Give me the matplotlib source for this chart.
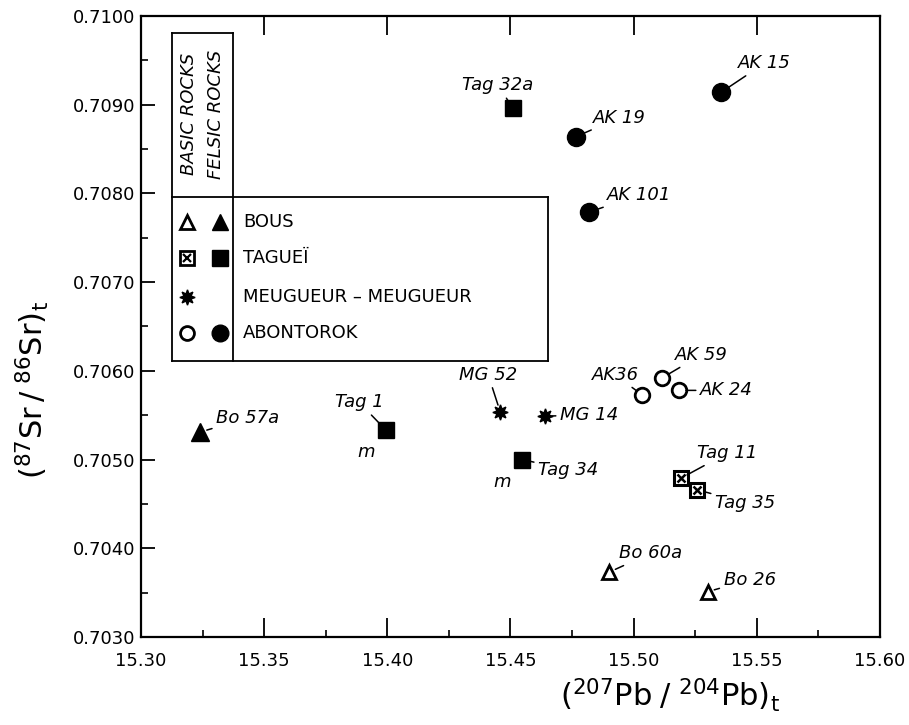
import matplotlib
matplotlib.use("Agg")
import matplotlib.pyplot as plt
from matplotlib.lines import Line2D
from matplotlib.ticker import MultipleLocator, FormatStrFormatter

plt.rcParams['font.family'] = ['DejaVu Sans']

# sample data  (207Pb/204Pb)t , (87Sr/86Sr)t
bous_felsic_names = ['Bo 57a']
bous_felsic_x = [15.324]
bous_felsic_y = [0.70531]

bous_basic_names = ['Bo 60a', 'Bo 26']
bous_basic_x = [15.490, 15.530]
bous_basic_y = [0.70373, 0.70351]

tag_felsic_names = ['Tag 1', 'Tag 34', 'Tag 32a']
tag_felsic_x = [15.3995, 15.4547, 15.451]
tag_felsic_y = [0.70533, 0.70500, 0.70896]

tag_basic_names = ['Tag 11', 'Tag 35']
tag_basic_x = [15.5192, 15.5257]
tag_basic_y = [0.70479, 0.70466]

mg_names = ['MG 52', 'MG 14']
mg_x = [15.4458, 15.464]
mg_y = [0.70554, 0.70549]

ak_basic_names = ['AK36', 'AK 59', 'AK 24']
ak_basic_x = [15.5034, 15.5115, 15.5184]
ak_basic_y = [0.70573, 0.70592, 0.70578]

ak_felsic_names = ['AK 19', 'AK 101', 'AK 15']
ak_felsic_x = [15.4766, 15.4819, 15.5355]
ak_felsic_y = [0.70864, 0.70779, 0.70914]

# label offsets in pixels (dx, dy, ha)
offsets = {
    'Bo 57a': (16, 14, 'left'), 'Bo 60a': (10, 19, 'left'), 'Bo 26': (16, 12, 'left'),
    'Tag 1': (-27, 28, 'center'), 'Tag 34': (16, -10, 'left'), 'Tag 32a': (-15, 23, 'center'),
    'Tag 11': (16, 25, 'left'), 'Tag 35': (18, -13, 'left'),
    'MG 52': (-12, 37, 'center'), 'MG 14': (15, 1, 'left'),
    'AK36': (-27, 20, 'center'), 'AK 59': (39, 23, 'center'), 'AK 24': (21, 0, 'left'),
    'AK 19': (17, 19, 'left'), 'AK 101': (18, 17, 'left'), 'AK 15': (17, 29, 'left'),
}

fig = plt.figure(figsize=(9.09, 7.25), dpi=100)
ax = fig.add_axes([141/909, 88/725, 739/909, 621/725])

ms = 12.5
star = (8, 1, 0)
ax.plot(bous_felsic_x, bous_felsic_y, '^', color='k', ms=ms, zorder=3)
ax.plot(bous_basic_x, bous_basic_y, '^', mfc='white', mec='k', mew=2, ms=10.5, zorder=3)
ax.plot(tag_felsic_x, tag_felsic_y, 's', color='k', ms=12, zorder=3)
ax.plot(tag_basic_x, tag_basic_y, 's', mfc='white', mec='k', mew=2.2, ms=10.5, zorder=3)
ax.plot(tag_basic_x, tag_basic_y, 'x', color='k', mew=1.8, ms=6, zorder=4)
ax.plot(mg_x, mg_y, marker=star, ls='none', color='k', ms=11, zorder=3)
ax.plot(ak_basic_x, ak_basic_y, 'o', mfc='white', mec='k', mew=2, ms=10.5, zorder=3)
ax.plot(ak_felsic_x, ak_felsic_y, 'o', color='k', ms=13, zorder=3)

allnames = (bous_felsic_names + bous_basic_names + tag_felsic_names + tag_basic_names
            + mg_names + ak_basic_names + ak_felsic_names)
allx = bous_felsic_x + bous_basic_x + tag_felsic_x + tag_basic_x + mg_x + ak_basic_x + ak_felsic_x
ally = bous_felsic_y + bous_basic_y + tag_felsic_y + tag_basic_y + mg_y + ak_basic_y + ak_felsic_y

for name, x, y in zip(allnames, allx, ally):
    dx, dy, ha = offsets[name]
    ax.annotate(name, (x, y), xytext=(dx, dy), textcoords='offset pixels',
                ha=ha, va='center', fontsize=13, style='italic',
                arrowprops=dict(arrowstyle='-', color='k', lw=1.1, shrinkA=1, shrinkB=5))

# "m" marks under two Tagueï samples
for x, y in [(tag_felsic_x[0], tag_felsic_y[0]), (tag_felsic_x[1], tag_felsic_y[1])]:
    ax.annotate('m', (x, y), xytext=(-20, -22), textcoords='offset pixels',
                ha='center', va='center', fontsize=13, style='italic')

ax.set_xlim(15.30, 15.60)
ax.set_ylim(0.7030, 0.7100)
ax.xaxis.set_major_locator(MultipleLocator(0.05))
ax.xaxis.set_minor_locator(MultipleLocator(0.025))
ax.yaxis.set_major_locator(MultipleLocator(0.001))
ax.yaxis.set_minor_locator(MultipleLocator(0.0005))
ax.xaxis.set_major_formatter(FormatStrFormatter('%.2f'))
ax.yaxis.set_major_formatter(FormatStrFormatter('%.4f'))
ax.tick_params(axis='x', which='major', direction='in', length=14, width=1.3,
               top=True, labelsize=13, pad=11)
ax.tick_params(axis='x', which='minor', direction='in', length=5, width=1.2, top=False)
ax.tick_params(axis='y', which='major', direction='in', length=10, width=1.3,
               right=False, labelsize=13, pad=4)
ax.tick_params(axis='y', which='minor', direction='in', length=5, width=1.2, right=False)
for s in ax.spines.values():
    s.set_linewidth(1.6)

ax.text(670/909, 30/725, r'$(^{207}\mathrm{Pb}\;/\;^{204}\mathrm{Pb})_{\mathrm{t}}$',
        transform=fig.transFigure, ha='center', va='center', fontsize=22)
ax.text(32/909, (725-390)/725, r'$(^{87}\mathrm{Sr}\,/\;^{86}\mathrm{Sr})_{\mathrm{t}}$',
        transform=fig.transFigure, ha='center', va='center', fontsize=22, rotation=90)

# legend box drawn by hand (figure pixels -> axes fraction)
def ax_pt(px, py):
    return (px - 141) / 739, (637 - py) / 621

def seg(p1, p2):
    (x1, y1), (x2, y2) = ax_pt(*p1), ax_pt(*p2)
    ax.add_line(Line2D([x1, x2], [y1, y2], transform=ax.transAxes, color='k', lw=1.3, clip_on=False))

seg((172, 33), (233, 33))
seg((172, 33), (172, 361))
seg((233, 33), (233, 361))
seg((172, 197), (548, 197))
seg((548, 197), (548, 361))
seg((172, 361), (548, 361))

for txt, px in [('BASIC ROCKS', 189), ('FELSIC ROCKS', 216)]:
    x, y = ax_pt(px, 114)
    ax.text(x, y, txt, transform=ax.transAxes, rotation=90, ha='center', va='center',
            fontsize=13, style='italic')

legend_rows = ['BOUS', 'TAGUEÏ', 'MEUGUEUR – MEUGUEUR', 'ABONTOROK']
row_y = [222, 258, 297, 333]
open_marks = [dict(marker='^', mfc='white', mec='k', mew=2, ms=10),
              dict(marker='s', mfc='white', mec='k', mew=2, ms=10),
              dict(marker=star, color='k', ms=11),
              dict(marker='o', mfc='white', mec='k', mew=2, ms=10)]
filled_marks = [dict(marker='^', color='k', ms=12), dict(marker='s', color='k', ms=11),
                None, dict(marker='o', color='k', ms=12)]
for lab, py, om, fm in zip(legend_rows, row_y, open_marks, filled_marks):
    x, y = ax_pt(187, py)
    ax.plot([x], [y], transform=ax.transAxes, ls='none', clip_on=False, **om)
    if lab == 'TAGUEÏ':
        ax.plot([x], [y], 'x', color='k', mew=1.6, ms=5.5, transform=ax.transAxes, clip_on=False)
    if fm is not None:
        x2, _ = ax_pt(220, py)
        ax.plot([x2], [y], transform=ax.transAxes, ls='none', clip_on=False, **fm)
    xt, _ = ax_pt(243, py)
    ax.text(xt, y, lab, transform=ax.transAxes, ha='left', va='center', fontsize=13)

fig.savefig('out.png', dpi=100)
